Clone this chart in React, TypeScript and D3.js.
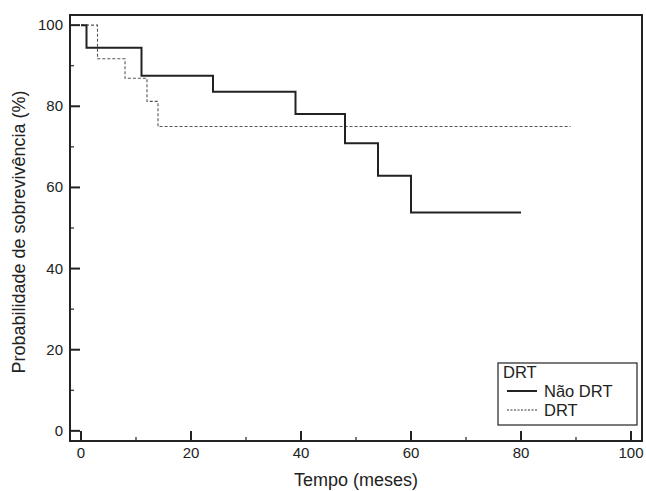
import React from "react";
import * as d3 from "d3";

// Kaplan-Meier steps
const naoDrtTempo = [0, 1, 11, 24, 39, 48, 54, 60, 80];
const naoDrtProb = [100, 94.4, 87.5, 83.6, 78.1, 70.9, 62.9, 53.8, 53.8];
const drtTempo = [0, 3, 8, 12, 14, 89];
const drtProb = [100, 91.7, 86.9, 81.2, 75, 75];

const xTicks = [0, 20, 40, 60, 80, 100];
const yTicks = [0, 20, 40, 60, 80, 100];
const xMinor = [10, 30, 50, 70, 90];
const yMinor = [10, 30, 50, 70, 90];

const width = 646;
const height = 491;
const font = "'Liberation Sans', Arial, sans-serif";
const ink = "#222";

const App = () => {
  const left = 70, right = 642, top = 15, bottom = 441;

  const x = d3.scaleLinear().domain([-2, 102]).range([left, right]);
  const y = d3.scaleLinear().domain([-2.5, 102.5]).range([bottom, top]);

  const line = d3
    .line<[number, number]>()
    .x((d) => x(d[0]))
    .y((d) => y(d[1]))
    .curve(d3.curveStepAfter);

  const naoDrt = naoDrtTempo.map((t, i) => [t, naoDrtProb[i]] as [number, number]);
  const drt = drtTempo.map((t, i) => [t, drtProb[i]] as [number, number]);

  // legend box
  const lg = { x: 498, y: 363, w: 139, h: 62 };

  return (
    <svg
      width={width}
      height={height}
      style={{ position: "absolute", left: 0, top: 0, background: "#fff" }}
      fontFamily={font}
    >
      {/* curves */}
      <path d={line(drt) || ""} fill="none" stroke="#555" strokeWidth={1.1} strokeDasharray="3,2" />
      <path d={line(naoDrt) || ""} fill="none" stroke={ink} strokeWidth={2} />

      {/* ticks, pointing inward */}
      {xTicks.map((t) => (
        <g key={"xt" + t}>
          <line x1={x(t)} x2={x(t)} y1={bottom} y2={bottom - 10} stroke={ink} strokeWidth={2} />
          <text x={x(t)} y={bottom + 17} textAnchor="middle" fontSize={15} fill={ink}>
            {t}
          </text>
        </g>
      ))}
      {xMinor.map((t) => (
        <line key={"xm" + t} x1={x(t)} x2={x(t)} y1={bottom} y2={bottom - 4} stroke={ink} strokeWidth={1.2} />
      ))}
      {yTicks.map((t) => (
        <g key={"yt" + t}>
          <line x1={left} x2={left + 10} y1={y(t)} y2={y(t)} stroke={ink} strokeWidth={2} />
          <text x={left - 7} y={y(t) + 5} textAnchor="end" fontSize={15} fill={ink}>
            {t}
          </text>
        </g>
      ))}
      {yMinor.map((t) => (
        <line key={"ym" + t} x1={left} x2={left + 4} y1={y(t)} y2={y(t)} stroke={ink} strokeWidth={1.2} />
      ))}

      {/* frame */}
      <rect x={left} y={top} width={right - left} height={bottom - top} fill="none" stroke={ink} strokeWidth={2} />

      {/* axis titles */}
      <text x={356} y={486} textAnchor="middle" fontSize={18} fill={ink}>
        Tempo (meses)
      </text>
      <text
        transform={`translate(25, 232) rotate(-90)`}
        textAnchor="middle"
        fontSize={18}
        fill={ink}
      >
        Probabilidade de sobrevivência (%)
      </text>

      {/* legend */}
      <rect x={lg.x} y={lg.y} width={lg.w} height={lg.h} fill="#fff" stroke={ink} strokeWidth={1.2} />
      <text x={lg.x + 5} y={lg.y + 15} fontSize={16.5} fill={ink}>
        DRT
      </text>
      <line x1={lg.x + 9} x2={lg.x + 39} y1={lg.y + 28} y2={lg.y + 28} stroke={ink} strokeWidth={2} />
      <text x={lg.x + 46} y={lg.y + 34} fontSize={16.5} fill={ink}>
        Não DRT
      </text>
      <line x1={lg.x + 9} x2={lg.x + 39} y1={lg.y + 47} y2={lg.y + 47} stroke="#333" strokeWidth={1} strokeDasharray="2,1.5" />
      <text x={lg.x + 46} y={lg.y + 53} fontSize={16.5} fill={ink}>
        DRT
      </text>
    </svg>
  );
};

export default App;
